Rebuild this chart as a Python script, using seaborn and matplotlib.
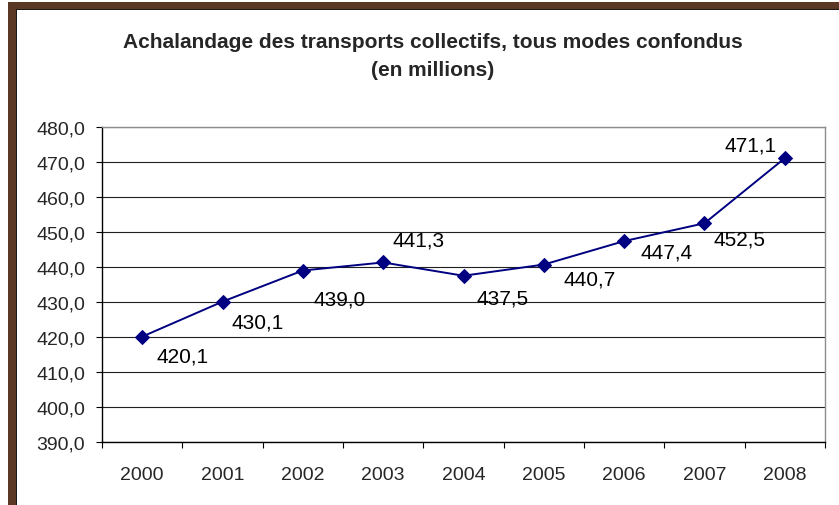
import matplotlib
matplotlib.use("Agg")
import matplotlib.pyplot as plt
from matplotlib.patches import Rectangle
import numpy as np
import pandas as pd
import seaborn as sns

years = ["2000", "2001", "2002", "2003", "2004", "2005", "2006", "2007", "2008"]
ridership = [420.1, 430.1, 439.0, 441.3, 437.5, 440.7, 447.4, 452.5, 471.1]
value_labels = ["420,1", "430,1", "439,0", "441,3", "437,5", "440,7", "447,4", "452,5", "471,1"]
# label placement relative to each marker, in pixels (right, down)
label_offsets = [(40, 19), (35, 20), (37, 28), (35, -22), (39, 22),
                 (46, 14), (42, 11), (35, 16), (-34, -13)]

W, H, DPI = 839, 506, 100

sns.set_style("white")
plt.rcParams["font.family"] = ["Liberation Sans", "DejaVu Sans"]

fig = plt.figure(figsize=(W / DPI, H / DPI), dpi=DPI)
fig.patch.set_facecolor("white")

# brown frame on the left and top of the chart area
brown = "#5b3726"
fig.patches.append(Rectangle((8 / W, 0), 9 / W, (H - 3) / H, transform=fig.transFigure,
                             facecolor=brown, edgecolor="none", zorder=0))
fig.patches.append(Rectangle((8 / W, (H - 11) / H), 1 - 8 / W, 8 / H, transform=fig.transFigure,
                             facecolor=brown, edgecolor="none", zorder=0))
fig.patches.append(Rectangle((16 / W, 0), 1.2 / W, (H - 10) / H, transform=fig.transFigure,
                             facecolor="#1a1a1a", edgecolor="none", zorder=1))
fig.patches.append(Rectangle((16 / W, (H - 11) / H), 1 - 16 / W, 1.2 / H, transform=fig.transFigure,
                             facecolor="#1a1a1a", edgecolor="none", zorder=1))

left, right, bottom, top = 102, 825, 443, 128
ax = fig.add_axes([left / W, (H - bottom) / H, (right - left) / W, (bottom - top) / H])

df = pd.DataFrame({"pos": np.arange(len(years)), "value": ridership})
sns.lineplot(data=df, x="pos", y="value", ax=ax, color="#000080", linewidth=1.4,
             marker="D", markersize=7, markeredgecolor="#000080", markerfacecolor="#000080",
             zorder=3)

ax.set_xlim(-0.5, len(years) - 0.5)
ax.set_ylim(390, 480)
ax.set_yticks(np.arange(390, 481, 10))
ax.set_yticklabels([f"{v:.1f}".replace(".", ",") for v in np.arange(390, 481, 10)])
ax.set_xticks(np.arange(len(years)))
ax.set_xticklabels(years)
ax.set_xticks(np.arange(-0.5, len(years), 1.0), minor=True)
ax.set_xlabel("")
ax.set_ylabel("")

ax.yaxis.grid(True, color="#202020", linewidth=0.8)
ax.xaxis.grid(False)
ax.set_axisbelow(True)

ax.tick_params(axis="y", which="major", direction="out", length=4, width=0.8,
               color="black", labelsize=14, pad=8, left=True)
ax.tick_params(axis="x", which="major", length=0, labelsize=14, pad=17, bottom=True)
ax.tick_params(axis="x", which="minor", direction="out", length=4, width=0.8,
               color="black", bottom=True)

for side in ["left", "bottom"]:
    ax.spines[side].set_color("black")
    ax.spines[side].set_linewidth(1.0)
for side in ["top", "right"]:
    ax.spines[side].set_color("#8c8c8c")
    ax.spines[side].set_linewidth(1.0)

for i, (v, txt, (dx, dy)) in enumerate(zip(ridership, value_labels, label_offsets)):
    ax.annotate(txt, xy=(i, v), xytext=(dx, -dy), textcoords="offset pixels",
                ha="center", va="center", fontsize=15, color="black")

fig.text(433 / W, 1 - 42 / H, "Achalandage des transports collectifs, tous modes confondus",
         ha="center", va="center", fontsize=15, fontweight="bold")
fig.text(433 / W, 1 - 70 / H, "(en millions)",
         ha="center", va="center", fontsize=15, fontweight="bold")

fig.savefig("out.png", dpi=DPI)
